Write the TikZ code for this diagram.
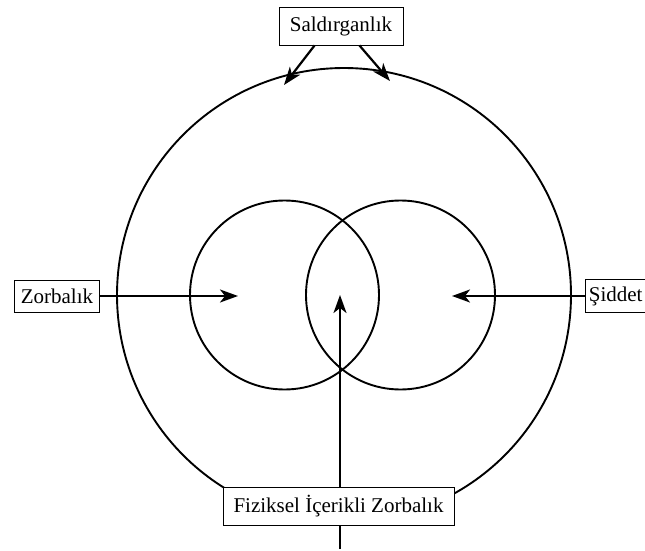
\documentclass[tikz,border=0pt]{standalone}
\usepackage{fontspec}
\setmainfont{Liberation Serif}
\usepackage{tikz}
\usetikzlibrary{arrows.meta,positioning}

\begin{document}
\begin{tikzpicture}[x=1pt,y=-1pt,
    ring/.style={line width=1.9pt},
    lbl/.style={draw,line width=0.8pt,fill=white,inner xsep=6pt,
      minimum height=36pt,font=\fontsize{21}{25}\selectfont},
    arr/.style={line width=2.2pt,-{Stealth[length=18pt,width=13pt,inset=5pt]}}]

  \newcommand\Rbig{227};
  \newcommand\Rsmall{94.5};

  \useasboundingbox (0,0) rectangle (645,551);

  %% circles
  \draw[ring] (344,295) circle[radius=\Rbig];
  \draw[ring] (284.5,295) circle[radius=\Rsmall];
  \draw[ring] (400.5,295) circle[radius=\Rsmall];

  %% arrow ends
  \coordinate (zorbend) at (238,296);
  \coordinate (sidend) at (452,296);
  \coordinate (saldl) at (284,85);
  \coordinate (saldr) at (390,81);
  \coordinate (fizend) at (340,295);
  \coordinate (fizstart) at (340,549);

  \draw[arr] (fizstart) -- (fizend); % Fiziksel -> center

  \node[lbl, minimum height=32pt] (zorb) at (57,296) {Zorbalık};
  \node[lbl, minimum height=33pt, inner xsep=3.5pt, anchor=west] (sid) at (585,296) {Şiddet};
  \node[lbl, minimum width=124pt, minimum height=38pt] (sald) at (341,26) {Saldırganlık};
  \node[lbl, minimum width=231pt, minimum height=38pt] (fiz) at (338.5,506) {Fiziksel İçerikli Zorbalık};

  \draw[arr] (zorb.east) -- (zorbend); %% Zorbalik -> left
  \draw[arr] (sid.west) -- (sidend); %% Siddet -> right
  \draw[arr] ([xshift=36pt]sald.south west) -- (saldl);
  \draw[arr] ([xshift=-44pt]sald.south east) -- (saldr);

\end{tikzpicture}
\end{document}
